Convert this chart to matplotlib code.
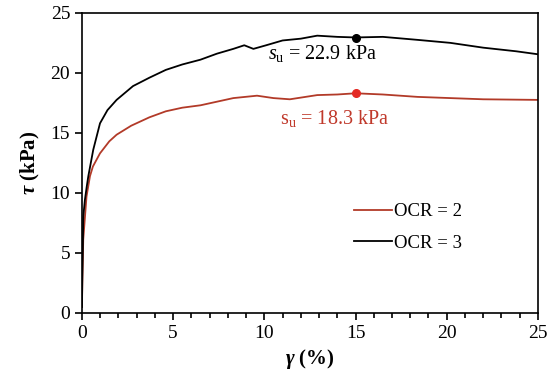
import numpy as np
import matplotlib
matplotlib.use("Agg")
import matplotlib.pyplot as plt
from matplotlib.ticker import MultipleLocator

plt.rcParams['font.family'] = 'Liberation Serif'
plt.rcParams['mathtext.fontset'] = 'custom'
plt.rcParams['mathtext.rm'] = 'Liberation Serif'
plt.rcParams['mathtext.it'] = 'Liberation Serif:italic'
plt.rcParams['mathtext.bf'] = 'Liberation Serif:bold:italic'

# Shear strain (%) and shear stress (kPa)

gamma_ocr3 = [0.0, 0.02, 0.05, 0.07, 0.16, 0.26, 0.35, 0.62, 0.99, 1.4, 1.9, 2.8,
              3.7, 4.6, 5.5, 6.5, 7.4, 8.3, 8.9, 9.4, 10.1, 11.0, 12.0, 12.9,
              14.0, 15.0, 16.5, 18.4, 20.2, 22.0, 23.8, 25.0]
tau_ocr3 = [0.5, 3.0, 5.5, 8.0, 9.4, 10.5, 11.4, 13.6, 15.8, 16.9, 17.75, 18.9,
            19.6, 20.25, 20.7, 21.1, 21.6, 22.0, 22.3, 22.0, 22.3, 22.7, 22.85, 23.1,
            23.0, 22.95, 23.0, 22.75, 22.5, 22.1, 21.8, 21.55]

gamma_ocr2 = [0.0, 0.02, 0.05, 0.07, 0.25, 0.44, 0.6, 0.99, 1.5, 1.9, 2.7, 3.7,
              4.6, 5.5, 6.5, 7.4, 8.3, 9.6, 10.5, 11.4, 12.9, 14.0, 15.0, 16.5,
              18.4, 20.2, 22.0, 25.0]
tau_ocr2 = [0.5, 2.5, 4.5, 6.1, 9.7, 11.4, 12.2, 13.3, 14.3, 14.85, 15.6, 16.3,
            16.8, 17.1, 17.3, 17.6, 17.9, 18.1, 17.9, 17.8, 18.15, 18.2, 18.3, 18.2,
            18.0, 17.9, 17.8, 17.75]

su_gamma = [15.0, 15.0]
su_tau = [22.9, 18.3]
su_labels = ['$s_\\mathrm{u}$ = 22.9 kPa', '$\\mathrm{s_u}$ = 18.3 kPa']

red = '#b23a28'
fig = plt.figure(figsize=(5.5, 3.78), dpi=100)
ax = fig.add_axes([0.149, 0.172, 0.829, 0.794])

ax.plot(gamma_ocr2, tau_ocr2, color=red, lw=1.3, label='OCR = 2')
ax.plot(gamma_ocr3, tau_ocr3, color='black', lw=1.3, label='OCR = 3')
ax.plot(su_gamma[0], su_tau[0], 'o', color='black', ms=5.5)
ax.plot(su_gamma[1], su_tau[1], 'o', color='#e42a24', ms=5.5)

ax.text(10.2, 21.6, su_labels[0], fontsize=14.5, color='black', va='center')
ax.text(10.85, 16.2, su_labels[1], fontsize=14.5, color='#c0392b', va='center')

ax.set_xlim(0, 25)
ax.set_ylim(0, 25)
ax.xaxis.set_major_locator(MultipleLocator(5))
ax.xaxis.set_minor_locator(MultipleLocator(1))
ax.yaxis.set_major_locator(MultipleLocator(5))
ax.tick_params(axis='both', which='major', labelsize=14, direction='out', length=5, width=1.2)
ax.tick_params(axis='x', which='minor', direction='out', length=3.5, width=1.2)
for s in ax.spines.values():
    s.set_linewidth(1.2)

ax.set_xlabel('$\\mathbf{\\gamma}$ (%)', fontsize=15, fontweight='bold', labelpad=4)
ax.set_ylabel('$\\mathbf{\\tau}$ (kPa)', fontsize=15, fontweight='bold', labelpad=6)

ax.legend(loc='center left', bbox_to_anchor=(0.56, 0.285), frameon=False, fontsize=13.5,
          handlelength=2.0, handletextpad=0.1, labelspacing=0.75)

fig.savefig('out.png', dpi=100)
